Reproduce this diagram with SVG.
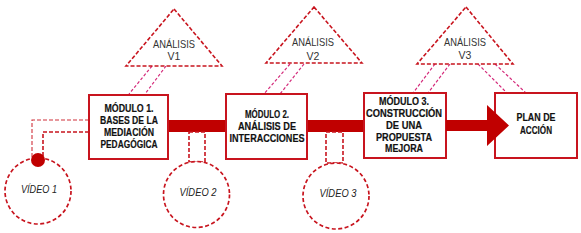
<svg xmlns="http://www.w3.org/2000/svg" width="581" height="233" viewBox="0 0 581 233">
<style>
.bg{fill:#ffffff}
.box{fill:#ffffff;stroke:#c8141e;stroke-width:2}
.tri{fill:#ffffff;stroke:#c8141e;stroke-width:1.6;stroke-dasharray:4 2}
.circ{fill:#ffffff;stroke:#c8141e;stroke-width:1.7;stroke-dasharray:4 2.5}
.pink{fill:none;stroke:#d42a7a;stroke-width:1.2;stroke-dasharray:3 2}
.dash{fill:none;stroke:#c8141e;stroke-width:1.6;stroke-dasharray:4 2}
.thin{fill:none;stroke:#d0303a;stroke-width:1.1;stroke-dasharray:4 2}
.bar{fill:#c00000}
.bt{font-family:"Liberation Sans",Arial,sans-serif;font-weight:bold;font-size:11px;fill:#111;stroke:#111;stroke-width:0.2;text-anchor:middle}
.tt{font-family:"Liberation Sans",Arial,sans-serif;font-size:10.5px;fill:#333;text-anchor:middle}
.vt{font-family:"Liberation Sans",Arial,sans-serif;font-style:italic;font-size:10.5px;fill:#222;text-anchor:middle}
</style>
<rect class="bg" x="0" y="0" width="581" height="233"/>
<g id="connectors">
  <rect class="bar" x="165" y="120" width="200" height="12"/>
  <path class="pink" d="M152 66 L129 94 M166 66 L145 94"/>
  <path class="pink" d="M290 64 L264 94 M304 64 L280 94"/>
  <path class="pink" d="M435 64 L413 93 M450 64 L428 93"/>
  <path class="pink" d="M478 64 L507 93 M495 64 L526 93"/>
  <path class="thin" d="M89 120 L32 120 L32 160"/>
  <path class="dash" d="M89 132 L43 132 L43 160"/>
  <rect class="dash" x="189" y="132" width="16" height="30"/>
  <rect class="dash" x="326" y="132" width="17" height="31"/>
</g>
<g id="analisis1">
  <polygon class="tri" points="174,9 222,66 126,66"/>
  <text class="tt" x="174" y="48" textLength="42" lengthAdjust="spacingAndGlyphs">ANÁLISIS</text>
  <text class="tt" x="174" y="60">V1</text>
</g>
<g id="analisis2">
  <polygon class="tri" points="314,7 362,63 266,63"/>
  <text class="tt" x="313" y="46" textLength="42" lengthAdjust="spacingAndGlyphs">ANÁLISIS</text>
  <text class="tt" x="313" y="60">V2</text>
</g>
<g id="analisis3">
  <polygon class="tri" points="466,7 513,64 417,64"/>
  <text class="tt" x="465" y="46" textLength="42" lengthAdjust="spacingAndGlyphs">ANÁLISIS</text>
  <text class="tt" x="465" y="59">V3</text>
</g>
<g id="modulo1">
  <rect class="box" x="89" y="95" width="79" height="64"/>
  <text class="bt" x="129" y="112" textLength="49" lengthAdjust="spacingAndGlyphs">MÓDULO 1.</text>
  <text class="bt" x="129" y="124" textLength="58" lengthAdjust="spacingAndGlyphs">BASES DE LA</text>
  <text class="bt" x="129" y="136" textLength="50" lengthAdjust="spacingAndGlyphs">MEDIACIÓN</text>
  <text class="bt" x="129" y="148" textLength="57" lengthAdjust="spacingAndGlyphs">PEDAGÓGICA</text>
</g>
<g id="modulo2">
  <rect class="box" x="226" y="94" width="81" height="65"/>
  <text class="bt" x="267" y="118" textLength="44" lengthAdjust="spacingAndGlyphs">MÓDULO 2.</text>
  <text class="bt" x="267" y="130" textLength="58" lengthAdjust="spacingAndGlyphs">ANÁLISIS DE</text>
  <text class="bt" x="267" y="142" textLength="75" lengthAdjust="spacingAndGlyphs">INTERACCIONES</text>
</g>
<g id="modulo3">
  <rect class="box" x="364" y="93" width="82" height="65"/>
  <text class="bt" x="404" y="105" textLength="50" lengthAdjust="spacingAndGlyphs">MÓDULO 3.</text>
  <text class="bt" x="404" y="117" textLength="76" lengthAdjust="spacingAndGlyphs">CONSTRUCCIÓN</text>
  <text class="bt" x="404" y="129" textLength="36" lengthAdjust="spacingAndGlyphs">DE UNA</text>
  <text class="bt" x="404" y="141" textLength="56" lengthAdjust="spacingAndGlyphs">PROPUESTA</text>
  <text class="bt" x="404" y="152" textLength="38" lengthAdjust="spacingAndGlyphs">MEJORA</text>
</g>
<g id="plan">
  <rect class="box" x="495" y="93" width="82" height="65"/>
  <text class="bt" x="536" y="121" textLength="39" lengthAdjust="spacingAndGlyphs">PLAN DE</text>
  <text class="bt" x="536" y="134" textLength="32" lengthAdjust="spacingAndGlyphs">ACCIÓN</text>
</g>
<g id="flecha">
  <polygon class="bar" points="446,120 487,120 487,105 509,125.5 487,146 487,131 446,131"/>
</g>
<g id="video1">
  <circle class="circ" cx="38" cy="191" r="33"/>
  <circle cx="38" cy="160" r="7" fill="#c00000"/>
  <text class="vt" x="39" y="193" textLength="36" lengthAdjust="spacingAndGlyphs">VÍDEO 1</text>
</g>
<g id="video2">
  <circle class="circ" cx="196.5" cy="194.5" r="33"/>
  <text class="vt" x="198" y="196" textLength="37" lengthAdjust="spacingAndGlyphs">VÍDEO 2</text>
</g>
<g id="video3">
  <circle class="circ" cx="336" cy="196" r="33"/>
  <text class="vt" x="338" y="197" textLength="37" lengthAdjust="spacingAndGlyphs">VÍDEO 3</text>
</g>
</svg>
